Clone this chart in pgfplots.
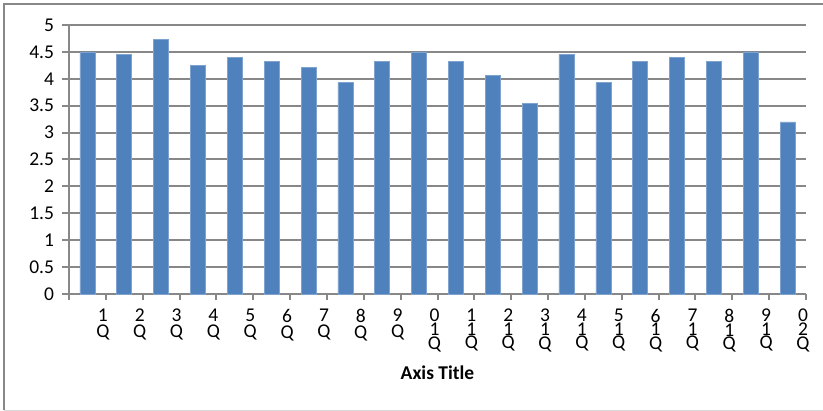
\documentclass[border=0pt]{standalone}
\usepackage{pgfplots}
\pgfplotsset{compat=1.18}
\usepackage{fontspec}
\setmainfont{Carlito}
\definecolor{barblue}{HTML}{4F81BD}
\definecolor{baredge}{HTML}{7FA3D0}
\definecolor{gridgray}{HTML}{888888}
\definecolor{lightborder}{HTML}{D9D9D9}
\begin{document}
\begin{tikzpicture}[x=1pt,y=1pt]
\useasboundingbox (0,0) rectangle (823,411);
\draw[gridgray, line width=2pt] (4,0.5) -- (4,407) -- (823,407);
\draw[lightborder, line width=1pt] (4,0.5) -- (823,0.5);
\begin{axis}[
  at={(69pt,117pt)}, anchor=south west,
  scale only axis, width=737pt, height=269pt,
  xmin=0.5, xmax=20.5, ymin=0, ymax=5,
  ytick={0,0.5,...,5},
  xtick={0.5,1.5,...,20.5},
  xticklabels={{},{1\\[2.5pt]Q},{2\\[2.5pt]Q},{3\\[2.5pt]Q},{4\\[2.5pt]Q},{5\\[2.5pt]Q},{6\\[2.5pt]Q},{7\\[2.5pt]Q},{8\\[2.5pt]Q},{9\\[2.5pt]Q},{0\\1\\Q},{1\\1\\Q},{2\\1\\Q},{3\\1\\Q},{4\\1\\Q},{5\\1\\Q},{6\\1\\Q},{7\\1\\Q},{8\\1\\Q},{9\\1\\Q},{0\\2\\Q}},
  xticklabel style={font=\fontsize{19.5}{12}\selectfont, align=center, xshift=-3pt, yshift=-5pt},
  yticklabel style={font=\fontsize{19.5}{22}\selectfont, xshift=-5pt},
  /pgf/number format/assume math mode=true,
  tick align=outside,
  major tick length=6.5pt,
  tick style={gridgray, line width=2pt},
  ymajorgrids,
  grid style={gridgray, line width=2pt},
  axis x line*=bottom, axis y line*=left,
  axis line style={gridgray, line width=2pt, -},
  x axis line style={-}, y axis line style={-},
  xlabel={\textbf{Axis Title}},
  xlabel style={font=\fontsize{19.5}{22}\selectfont, at={(axis description cs:0.5,0)}, anchor=base, yshift=-86pt},
  ybar, bar width=15pt,
  clip=false,
]
\addplot[fill=barblue, draw=baredge, line width=0.6pt] coordinates {
(1,4.5) (2,4.45) (3,4.73) (4,4.25) (5,4.4) (6,4.32) (7,4.21) (8,3.93) (9,4.32) (10,4.5)
(11,4.32) (12,4.06) (13,3.54) (14,4.45) (15,3.93) (16,4.32) (17,4.4) (18,4.32) (19,4.5) (20,3.2)
};
\end{axis}
\end{tikzpicture}
\end{document}
